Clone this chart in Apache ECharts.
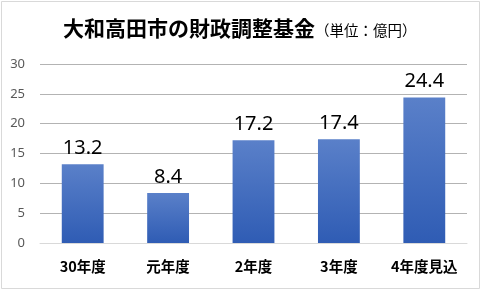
<!DOCTYPE html>
<html>
<head>
<meta charset="utf-8">
<style>
  html, body { margin: 0; padding: 0; background: #ffffff; }
  #chart { width: 486px; height: 296px; }
</style>
<script src="https://cdn.jsdelivr.net/npm/echarts@6/dist/echarts.min.js"></script>
</head>
<body>
<div id="chart"></div>
<script>
// 財政調整基金の残高（億円）
const categories = ['30年度', '元年度', '2年度', '3年度', '4年度見込'];
const balances = [13.2, 8.4, 17.2, 17.4, 24.4];
const yTicks = [0, 5, 10, 15, 20, 25, 30];

const chart = echarts.init(document.getElementById('chart'), null, { renderer: 'canvas' });

const barFill = new echarts.graphic.LinearGradient(0, 0, 0, 1, [
  { offset: 0, color: '#5a80c9' },
  { offset: 1, color: '#2f5cb4' }
]);

chart.setOption({
  animation: false,
  backgroundColor: '#ffffff',
  graphic: [
    {
      type: 'rect',
      shape: { x: 1.5, y: 1.5, width: 478, height: 287 },
      style: { fill: 'none', stroke: '#d9d9d9', lineWidth: 1 },
      silent: true
    },
    {
      type: 'text',
      left: 63,
      top: 18,
      style: {
        text: '{a|大和高田市の財政調整基金}{b|（単位：億円）}',
        rich: {
          a: { fontSize: 21, fontWeight: 'bold', fill: '#000000', fontFamily: 'Noto Sans CJK JP' },
          b: { fontSize: 14.5, fill: '#000000', fontFamily: 'Noto Sans CJK JP', padding: [4, 0, 0, 0] }
        }
      }
    }
  ],
  grid: { left: 40, right: 19, top: 64, bottom: 53, containLabel: false },
  xAxis: {
    type: 'category',
    data: categories,
    axisLine: { lineStyle: { color: '#d9d9d9' } },
    axisTick: { show: false },
    axisLabel: {
      interval: 0,
      color: '#000000',
      fontWeight: 'bold',
      fontSize: 14.5,
      fontFamily: 'Noto Sans CJK JP',
      margin: 16
    }
  },
  yAxis: {
    type: 'value',
    min: yTicks[0],
    max: yTicks[yTicks.length - 1],
    interval: 5,
    axisLine: { show: false },
    axisTick: { show: false },
    axisLabel: { color: '#595959', fontSize: 13, fontFamily: 'Noto Sans', margin: 15 },
    splitLine: { lineStyle: { color: '#b3b3b3' } }
  },
  series: [{
    type: 'bar',
    data: balances,
    barWidth: '49%',
    itemStyle: { color: barFill },
    label: {
      show: true,
      position: 'top',
      distance: 6,
      color: '#000000',
      fontSize: 20,
      fontFamily: 'Noto Sans',
      formatter: p => p.value.toFixed(1)
    }
  }]
});
</script>
</body>
</html>
